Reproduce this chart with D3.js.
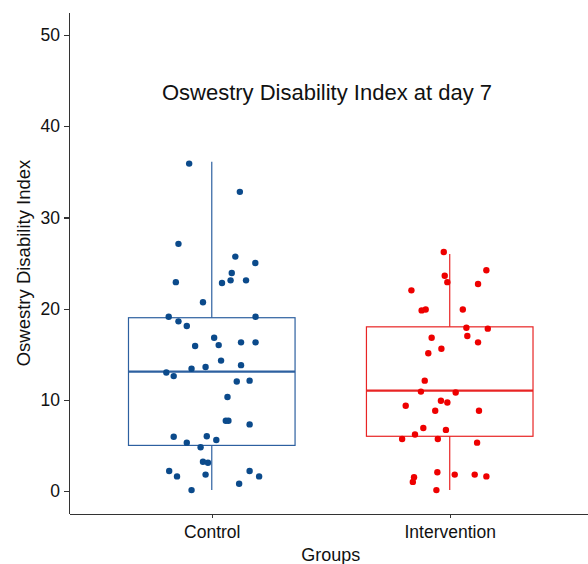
<!DOCTYPE html>
<html>
    <head>
        <script src="https://d3js.org/d3.v7.min.js"></script>
        <style>
            body {
                margin: 0;
                background: white;
            }
            text {
                font-family: "Liberation Sans", Arial, sans-serif;
                fill: #111;
            }
            .axis path,
            .axis line {
                stroke: #333;
                stroke-width: 1.2px;
                shape-rendering: crispEdges;
            }
        </style>
    </head>
    <body>
    <script>
        // groups and values
        var groups= ['Control', 'Intervention']
        var colors= ['#0b4a8b', '#ee0000']
        var boxColors= ['#2d60a0', '#e82424']

        var yTicks= [0, 10, 20, 30, 40, 50]

        // box statistics
        var q1= [5, 6]
        var median= [13.1, 11]
        var q3= [19, 18]
        var whiskerLow= [0.1, 0.1]
        var whiskerHigh= [36.1, 26]

        // points: value and horizontal jitter (category units)
        var controlValues= [35.9, 32.8, 27.1, 25.7, 25.0, 23.9, 22.9, 22.8, 23.1, 23.1,
            20.7, 19.1, 19.1, 18.6, 18.1, 16.8, 15.9, 16.0, 16.3, 16.3,
            14.3, 13.6, 13.4, 13.8, 13.0, 12.6, 12.0, 12.1, 10.3, 7.7,
            7.7, 7.3, 5.95, 5.3, 6.0, 5.6, 4.8, 3.2, 3.1, 2.2,
            1.6, 1.8, 2.2, 1.6, 0.8, 0.1]
        var controlJitter= [-0.095, 0.118, -0.140, 0.099, 0.183, 0.084, -0.151, 0.043, 0.079, 0.144,
            -0.037, -0.181, 0.184, -0.140, -0.105, 0.010, -0.070, 0.029, 0.123, 0.184,
            0.039, -0.026, -0.085, 0.123, -0.191, -0.160, 0.105, 0.159, 0.066, 0.059,
            0.070, 0.159, -0.160, -0.105, -0.021, 0.019, -0.047, -0.037, -0.016, -0.179,
            -0.146, -0.026, 0.159, 0.199, 0.115, -0.085]

        var interventionValues= [26.2, 24.2, 23.6, 22.9, 22.7, 22.0, 19.8, 19.9, 19.9, 17.9,
            17.8, 17.0, 16.3, 16.8, 15.6, 15.1, 12.1, 10.9, 10.8, 9.35,
            9.9, 9.7, 8.8, 8.8, 6.9, 6.7, 6.2, 5.7, 5.7, 5.3,
            2.05, 1.5, 1.0, 1.8, 1.8, 1.6, 0.1]
        var interventionJitter= [-0.025, 0.154, -0.021, -0.010, 0.119, -0.161, -0.118, -0.101, 0.055, 0.070,
            0.160, 0.074, 0.119, -0.076, -0.035, -0.090, -0.105, -0.121, 0.025, -0.185,
            -0.037, -0.010, -0.061, 0.123, -0.111, -0.016, -0.146, -0.200, -0.050, 0.115,
            -0.052, -0.150, -0.155, 0.021, 0.105, 0.154, -0.056]

        var w= 588
        var h= 564
        var boxWidth= 0.7

        var svg= d3.select('body').append('svg')
            .attr('width', w)
            .attr('height', h)

        // group i sits at i+1, discrete expansion of 0.6 each side
        var xScale= d3.scaleLinear()
            .domain([0.4, 2.6])
            .range([69, 592.5])
        var yScale= d3.scaleLinear()
            .domain([-2.5, 52.5])
            .range([513.8, 12.2])

        var xAxisGen= d3.axisBottom(xScale)
            .tickValues([1, 2])
            .tickFormat(function(d){ return groups[d-1] })
            .tickSizeInner(4)
            .tickSizeOuter(0)
            .tickPadding(8)
        var yAxisGen= d3.axisLeft(yScale)
            .tickValues(yTicks)
            .tickSizeInner(5)
            .tickSizeOuter(0)
            .tickPadding(4)

        var xAxis= svg.append('g')
            .attr('class', 'axis')
            .attr('transform', 'translate(0,'+yScale(-2.5)+')')
            .call(xAxisGen)
        xAxis.selectAll('text')
            .style('font-size', '17.5px')
            .attr('fill', '#111')

        var yAxis= svg.append('g')
            .attr('class', 'axis')
            .attr('transform', 'translate('+xScale(0.4)+',0)')
            .call(yAxisGen)
        yAxis.selectAll('text')
            .style('font-size', '17.5px')
            .attr('fill', '#111')

        // boxes
        groups.forEach(function(g, i){
            var cx= xScale(i+1)
            var left= xScale(i+1-boxWidth/2)
            var right= xScale(i+1+boxWidth/2)
            var box= svg.append('g')
                .attr('fill', 'none')
                .attr('stroke', boxColors[i])

            box.append('line')
                .attr('x1', cx).attr('x2', cx)
                .attr('y1', yScale(q3[i])).attr('y2', yScale(whiskerHigh[i]))
                .attr('stroke-width', 1.2)
            box.append('line')
                .attr('x1', cx).attr('x2', cx)
                .attr('y1', yScale(q1[i])).attr('y2', yScale(whiskerLow[i]))
                .attr('stroke-width', 1.2)
            box.append('rect')
                .attr('x', left)
                .attr('y', yScale(q3[i]))
                .attr('width', right-left)
                .attr('height', yScale(q1[i])-yScale(q3[i]))
                .attr('stroke-width', 1.2)
            box.append('line')
                .attr('x1', left).attr('x2', right)
                .attr('y1', yScale(median[i])).attr('y2', yScale(median[i]))
                .attr('stroke-width', 2.2)
        })

        // jittered points
        var series= [
            {values: controlValues, jitter: controlJitter},
            {values: interventionValues, jitter: interventionJitter}
        ]
        series.forEach(function(s, i){
            svg.append('g').selectAll('circle')
                .data(s.values)
                .enter()
                .append('circle')
                .attr('cx', function(d, j){ return xScale(i+1+s.jitter[j]) })
                .attr('cy', function(d){ return yScale(d) })
                .attr('r', 3.2)
                .attr('fill', colors[i])
        })

        // titles
        svg.append('text')
            .attr('x', 327)
            .attr('y', 100)
            .attr('text-anchor', 'middle')
            .style('font-size', '22px')
            .text('Oswestry Disability Index at day 7')

        svg.append('text')
            .attr('x', xScale(1.5))
            .attr('y', 561)
            .attr('text-anchor', 'middle')
            .style('font-size', '18px')
            .text('Groups')

        svg.append('text')
            .attr('transform', 'translate(30,'+yScale(25)+') rotate(-90)')
            .attr('text-anchor', 'middle')
            .style('font-size', '18.5px')
            .text('Oswestry Disability Index')
    </script>
    </body>
</html>
